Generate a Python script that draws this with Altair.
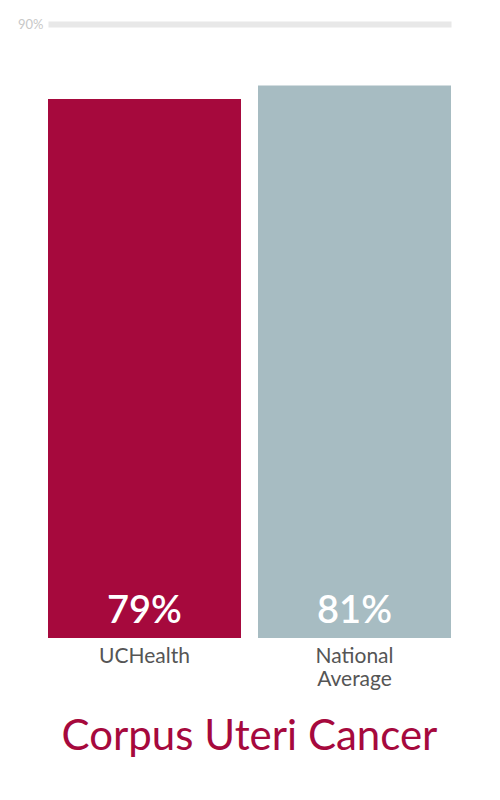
import altair as alt
import pandas as pd

categories = ["UCHealth", "National Average"]
survival = [79, 81]
bar_colors = ["#A6093D", "#A7BCC2"]
grid_ticks = [90]

df = pd.DataFrame({"group": categories, "rate": survival})
df["label"] = df["rate"].map(lambda v: f"{v}%")

FONT = "Lato"

x_enc = alt.X(
    "group:N",
    sort=categories,
    title=None,
    scale=alt.Scale(paddingInner=0.081, paddingOuter=0),
    axis=alt.Axis(
        labelExpr="datum.label == 'National Average' ? ['National', 'Average'] : datum.label",
        labelFont=FONT,
        labelFontSize=21,
        labelLineHeight=23,
        labelColor="#555555",
        labelAngle=0,
        labelPadding=7,
        labelBaseline="top",
        domain=False,
        ticks=False,
    ),
)

bars = alt.Chart(df).mark_bar().encode(
    x=x_enc,
    y=alt.Y(
        "rate:Q",
        title=None,
        scale=alt.Scale(domain=[0, 90]),
        axis=alt.Axis(
            values=grid_ticks,
            labelExpr="datum.value + '%'",
            labelFont=FONT,
            labelFontSize=13,
            labelColor="#c8c8c8",
            labelPadding=5,
            gridWidth=6,
            gridColor="#e8e8e8",
            domain=False,
            ticks=False,
        ),
    ),
    color=alt.Color("group:N", scale=alt.Scale(domain=categories, range=bar_colors), legend=None),
)

values = alt.Chart(df).mark_text(
    font=FONT,
    fontSize=38,
    fontWeight=600,
    color="white",
    baseline="alphabetic",
    dy=-15,
).encode(
    x=alt.X("group:N", sort=categories),
    y=alt.datum(0),
    text="label:N",
)

chart = (bars + values).properties(
    width=403,
    height=614,
    autosize=alt.AutoSizeParams(type="none"),
    padding={"left": 40, "top": 16, "right": 41, "bottom": 160},
    title=alt.TitleParams(
        "Corpus Uteri Cancer",
        orient="bottom",
        font=FONT,
        fontSize=42,
        fontWeight="normal",
        color="#A6093D",
        offset=28,
        anchor="middle",
    ),
).configure_view(stroke=None)

chart.save("out.html", embed_options={"renderer": "svg", "actions": False})
